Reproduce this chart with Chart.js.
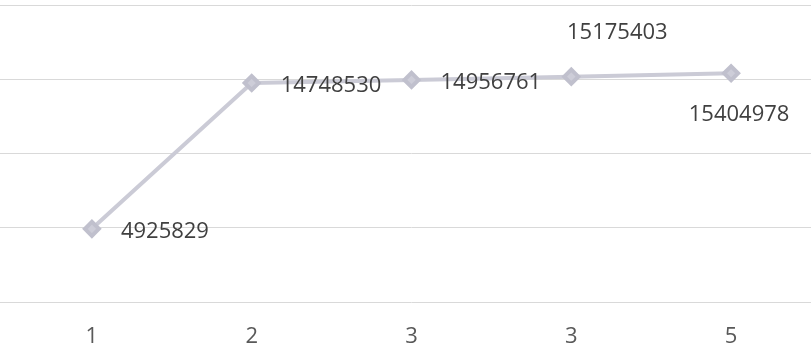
<!DOCTYPE html>
<html>
<head>
<meta charset="utf-8">
<script src="https://cdn.jsdelivr.net/npm/chart.js@4"></script>
<style>
  html, body { margin: 0; padding: 0; background: #fff; overflow: hidden; }
  #wrap { width: 811px; height: 350px; }
</style>
</head>
<body>
<div id="wrap"><canvas id="graph"></canvas></div>
<script>
// categories (x tick labels as printed)
const categories = ["1", "2", "3", "3", "5"];
// series values
const values = [4925829, 14748530, 14956761, 15175403, 15404978];
// y axis range (no tick labels shown)
const yMin = 0;
const yMax = 20000000;
const yStep = 5000000;

// where each value label sits relative to its point
const labelSide = ["right", "right", "right", "above", "below"];

const FONT = "'Open Sans', 'Liberation Sans', sans-serif";

// draw value labels next to points
const valueLabels = {
  id: "valueLabels",
  afterDatasetsDraw(chart) {
    const ctx = chart.ctx;
    const meta = chart.getDatasetMeta(0);
    ctx.save();
    ctx.font = "22px " + FONT;
    ctx.fillStyle = "#404040";
    ctx.textBaseline = "middle";
    meta.data.forEach((pt, i) => {
      const text = String(values[i]);
      const side = labelSide[i];
      if (side === "right") {
        ctx.textAlign = "left";
        ctx.fillText(text, pt.x + 29, pt.y + 3);
      } else if (side === "above") {
        ctx.textAlign = "center";
        ctx.fillText(text, pt.x + 46, pt.y - 44);
      } else {
        ctx.textAlign = "center";
        ctx.fillText(text, pt.x + 8, pt.y + 41);
      }
    });
    ctx.restore();
  },
};

const ctx = document.getElementById("graph").getContext("2d");
new Chart(ctx, {
  type: "line",
  data: {
    labels: categories,
    datasets: [
      {
        data: values,
        borderColor: "#cbcbd6",
        backgroundColor: "#c0c0cd",
        borderWidth: 4,
        pointStyle: "rectRot",
        pointRadius: 7,
        pointBorderColor: "#c0c0cd",
        pointBackgroundColor: "#cdcdd8",
        tension: 0,
        clip: false,
      },
    ],
  },
  options: {
    responsive: true,
    maintainAspectRatio: false,
    animation: false,
    layout: { autoPadding: false, padding: { top: 5, right: 0, bottom: 0, left: 0 } },
    scales: {
      x: {
        offset: true,
        grid: { display: false, drawTicks: false },
        border: { display: false },
        ticks: {
          color: "#595959",
          font: { family: FONT, size: 22 },
          padding: 22,
          maxRotation: 0,
          autoSkip: false,
        },
        afterFit(scale) {
          scale.height = 48;
        },
      },
      y: {
        min: yMin,
        max: yMax,
        ticks: { display: false, stepSize: yStep },
        border: { display: false },
        grid: {
          color: "#d9d9d9",
          lineWidth: 1,
          drawTicks: true,
          tickLength: 12,
        },
        afterFit(scale) {
          scale.width = 12;
        },
      },
    },
    plugins: {
      legend: { display: false },
      tooltip: { enabled: false },
    },
  },
  plugins: [valueLabels],
});
</script>
</body>
</html>
